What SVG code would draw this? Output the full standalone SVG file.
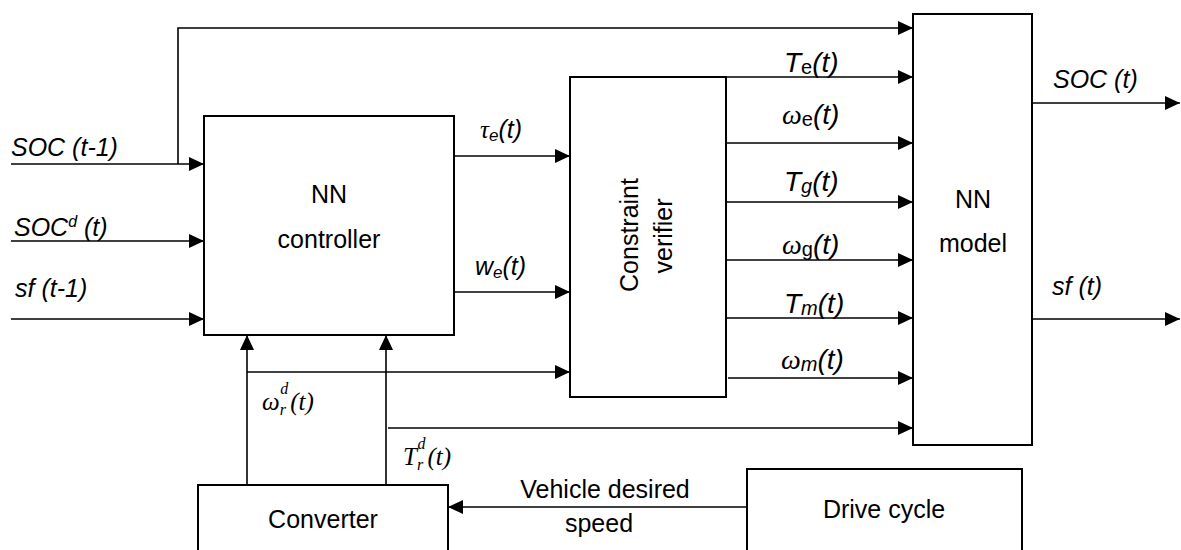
<svg xmlns="http://www.w3.org/2000/svg" width="1181" height="550" viewBox="0 0 1181 550">
<style>
.box{fill:#fff;stroke:#000;stroke-width:2}
.ln{stroke:#000;stroke-width:1.6;fill:none}
.t{font-family:"Liberation Sans",Arial,sans-serif;font-size:25px;fill:#000}
.i{font-style:italic}
.m{font-family:"Liberation Serif","DejaVu Serif",serif;font-style:italic}
.c{text-anchor:middle}
.o{font-size:28px}
</style>
<defs>
<marker id="ah" markerUnits="userSpaceOnUse" markerWidth="16" markerHeight="14" refX="15" refY="7" orient="auto">
<path d="M0,0 L15,7 L0,14 z" fill="#000"/>
</marker>
</defs>
<rect width="1181" height="550" fill="#fff"/>
<g id="connectors">
<path class="ln" d="M11,164 H204" marker-end="url(#ah)"/>
<path class="ln" d="M178,164 V28 H913" marker-end="url(#ah)"/>
<path class="ln" d="M11,241 H204" marker-end="url(#ah)"/>
<path class="ln" d="M11,319 H204" marker-end="url(#ah)"/>
<path class="ln" d="M454,156 H570" marker-end="url(#ah)"/>
<path class="ln" d="M454,292 H570" marker-end="url(#ah)"/>
<path class="ln" d="M247,485 V335" marker-end="url(#ah)"/>
<path class="ln" d="M386,485 V335" marker-end="url(#ah)"/>
<path class="ln" d="M247,372 H570" marker-end="url(#ah)"/>
<path class="ln" d="M388,428 H913" marker-end="url(#ah)"/>
<path class="ln" d="M726,77 H913" marker-end="url(#ah)"/>
<path class="ln" d="M726,143 H913" marker-end="url(#ah)"/>
<path class="ln" d="M726,202 H913" marker-end="url(#ah)"/>
<path class="ln" d="M726,260 H913" marker-end="url(#ah)"/>
<path class="ln" d="M726,318 H913" marker-end="url(#ah)"/>
<path class="ln" d="M728,378 H913" marker-end="url(#ah)"/>
<path class="ln" d="M1032,103 H1180" marker-end="url(#ah)"/>
<path class="ln" d="M1032,319 H1180" marker-end="url(#ah)"/>
<path class="ln" d="M747,507 H448" marker-end="url(#ah)"/>
</g>
<g id="labels">
<text class="t i" x="11" y="156">SOC (t-1)</text>
<text class="t i" x="14" y="236">SOC<tspan font-size="16" dy="-9">d</tspan><tspan dy="9"> (t)</tspan></text>
<text class="t i" x="15" y="297">sf (t-1)</text>
<text class="t i" x="480" y="138" font-size="24"><tspan class="m">τ</tspan><tspan font-size="17" dy="3">e</tspan><tspan dy="-3">(t)</tspan></text>
<text class="t i" x="475" y="275" font-size="24">w<tspan font-size="17" dy="3">e</tspan><tspan dy="-3">(t)</tspan></text>
<text class="t i o" x="784" y="72">T<tspan font-size="20" dy="2" font-style="normal">e</tspan><tspan dy="-2">(t)</tspan></text>
<text class="t i o" x="782" y="124"><tspan class="m">ω</tspan><tspan font-size="20" dy="2" font-style="normal">e</tspan><tspan dy="-2">(t)</tspan></text>
<text class="t i o" x="784" y="191">T<tspan font-size="20" dy="2">g</tspan><tspan dy="-2">(t)</tspan></text>
<text class="t i o" x="782" y="254"><tspan class="m">ω</tspan><tspan font-size="20" dy="2" font-style="normal">g</tspan><tspan dy="-2">(t)</tspan></text>
<text class="t i o" x="784" y="313">T<tspan font-size="20" dy="2">m</tspan><tspan dy="-2">(t)</tspan></text>
<text class="t i o" x="781" y="369"><tspan class="m">ω</tspan><tspan font-size="20" dy="2">m</tspan><tspan dy="-2">(t)</tspan></text>
<text class="t i" x="1053" y="88">SOC (t)</text>
<text class="t i" x="1052" y="295">sf (t)</text>
<text class="t m" x="262" y="410" font-size="26">ω<tspan font-size="16" dy="5">r</tspan><tspan font-size="16" dx="-5" dy="-21">d</tspan><tspan dx="2" dy="16">(t)</tspan></text>
<text class="t m" x="403" y="465" font-size="26">T<tspan font-size="16" dy="5">r</tspan><tspan font-size="16" dx="-5" dy="-21">d</tspan><tspan dx="2" dy="16">(t)</tspan></text>
<text class="t c" x="605" y="498" font-size="26">Vehicle desired</text>
<text class="t c" x="599" y="532" font-size="26">speed</text>
</g>
<g id="nn-controller">
<rect class="box" x="204" y="116" width="250" height="219"/>
<text class="t c" x="329" y="203">NN</text>
<text class="t c" x="329" y="248">controller</text>
</g>
<g id="constraint-verifier">
<rect class="box" x="570" y="77" width="156" height="320"/>
<text class="t c" transform="translate(638,235) rotate(-90)">Constraint</text>
<text class="t c" transform="translate(672,236) rotate(-90)">verifier</text>
</g>
<g id="nn-model">
<rect class="box" x="913" y="14" width="119" height="431"/>
<text class="t c" x="973" y="208">NN</text>
<text class="t c" x="973" y="252">model</text>
</g>
<g id="converter">
<rect class="box" x="198" y="485" width="250" height="80"/>
<text class="t c" x="323" y="528">Converter</text>
</g>
<g id="drive-cycle">
<rect class="box" x="747" y="469" width="275" height="100"/>
<text class="t c" x="884" y="518">Drive cycle</text>
</g>
</svg>
